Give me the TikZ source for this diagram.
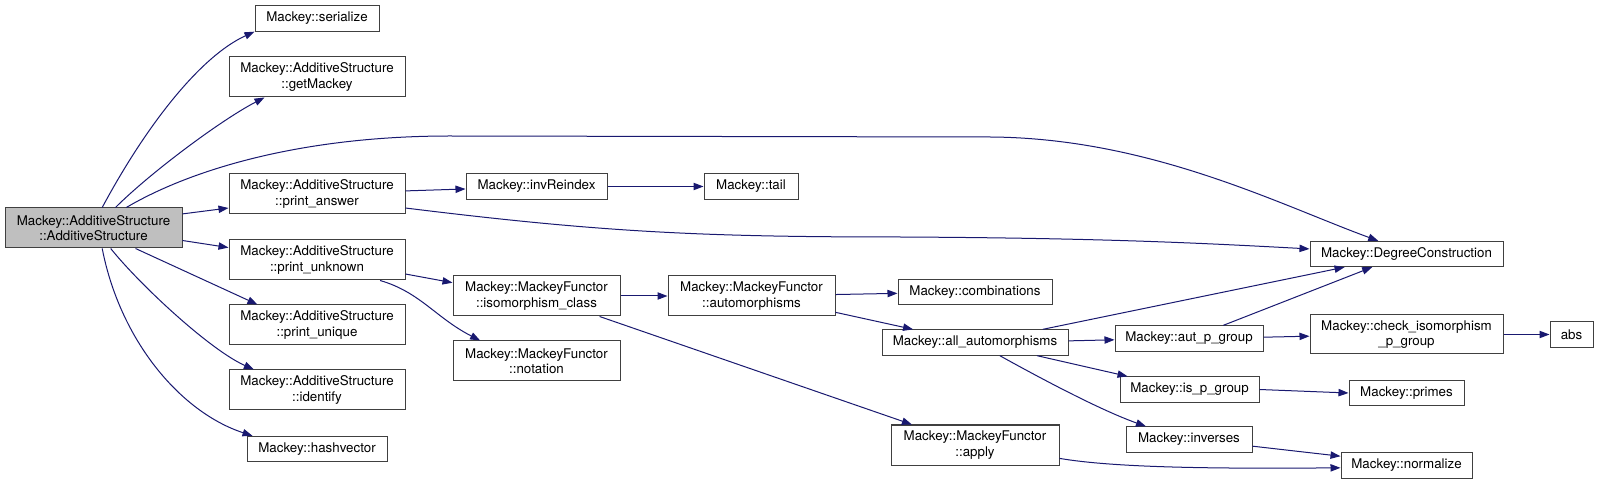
\documentclass[tikz,border=0pt]{standalone}
\usepackage{fontspec}
\setmainfont{TeX Gyre Heros}
\usepackage{xcolor}
\usepackage{tikz}
\usetikzlibrary{arrows.meta, calc}
\definecolor{EdgeBlue}{RGB}{25, 25, 112}
\definecolor{BoxBorder}{RGB}{64, 64, 64}
\definecolor{RootGray}{RGB}{191, 191, 191}
\tikzset{
  fn/.style={rectangle, draw=BoxBorder, fill=white, line width=0.75pt,
    inner sep=0pt, minimum height=19pt, align=center,
    font=\fontsize{10}{11.5}\selectfont, text=black},
  fnroot/.style={fn, fill=RootGray},
  twoline/.style={minimum height=30pt},
  wd/.style={minimum width=#1*0.75pt},
  call/.style={-{Triangle[length=7.5pt, width=5.5pt]}, line width=0.75pt,
    draw=EdgeBlue},
}

\begin{document}
\begin{tikzpicture}[x=0.75pt, y=-0.75pt]
  \fill[white] (0,0) rectangle (1599,484);
  \useasboundingbox (0,0) rectangle (1599,484);
  % columns of the call graph
  \node[fnroot, wd=177, twoline] (root) at (93.5,228)
    {Mackey::AdditiveStructure\\::AdditiveStructure};
  \node[fn, wd=124] (serialize) at (317,18.5) {Mackey::serialize};
  \node[fn, wd=176, twoline] (getMackey) at (317,77)
    {Mackey::AdditiveStructure\\::getMackey};
  \node[fn, wd=176, twoline] (printAnswer) at (317,194)
    {Mackey::AdditiveStructure\\::print\_answer};
  \node[fn, wd=176, twoline] (printUnknown) at (317,260)
    {Mackey::AdditiveStructure\\::print\_unknown};
  \node[fn, wd=176, twoline] (printUnique) at (317,325)
    {Mackey::AdditiveStructure\\::print\_unique};
  \node[fn, wd=176, twoline] (identify) at (317,390)
    {Mackey::AdditiveStructure\\::identify};
  \node[fn, wd=140] (hashvector) at (317,449) {Mackey::hashvector};
  \node[fn, wd=141] (invReindex) at (536.5,186.5) {Mackey::invReindex};
  \node[fn, wd=94] (tail) at (751,186.5) {Mackey::tail};
  \node[fn, wd=167, twoline] (isoClass) at (536.5,296)
    {Mackey::MackeyFunctor\\::isomorphism\_class};
  \node[fn, wd=167, twoline] (notation) at (536.5,361)
    {Mackey::MackeyFunctor\\::notation};
  \node[fn, wd=167, twoline] (automorphisms) at (751.5,296)
    {Mackey::MackeyFunctor\\::automorphisms};
  \node[fn, wd=154] (combinations) at (975,292) {Mackey::combinations};
  \node[fn, wd=186] (allAuto) at (975,342.5) {Mackey::all\_automorphisms};
  \node[fn, wd=168, twoline] (apply) at (975,445)
    {Mackey::MackeyFunctor\\::apply};
  \node[fn, wd=148] (autPGroup) at (1189,338.5) {Mackey::aut\_p\_group};
  \node[fn, wd=139] (isPGroup) at (1189.5,389.5) {Mackey::is\_p\_group};
  \node[fn, wd=126] (inverses) at (1189,439.5) {Mackey::inverses};
  \node[fn, wd=193] (degCons) at (1406.5,254) {Mackey::DegreeConstruction};
  \node[fn, wd=193, minimum height=29.25pt] (checkIso) at (1406.5,334.5)
    {Mackey::check\_isomorphism\\\_p\_group};
  \node[fn, wd=115] (primes) at (1406.5,393) {Mackey::primes};
  \node[fn, wd=131] (normalize) at (1406.5,465.5) {Mackey::normalize};
  \node[fn, wd=43] (abs) at (1571.5,334.5) {abs};
  % calls
  \draw[call] (root.67) .. controls (147,124) and (201,56) .. (serialize.south west);
  \draw[call] (root.43) .. controls (150,173) and (221,120) .. ($(getMackey.south west)+(36,0)$);
  \draw[call] (root.32) .. controls (190,170) and (300,136) .. (450,136) -- (990,137)
    .. controls (1150,138) and (1280,205) .. (degCons.155);
  \draw[call] (root.9) -- (printAnswer.189);
  \draw[call] (root.-8) -- (printUnknown.172);
  \draw[call] (root.-26) -- (printUnique.161);
  \draw[call] (root.-50) .. controls (140,285) and (210,350) .. (identify.162);
  \draw[call] (root.-67) .. controls (120,340) and (180,412) .. ($(hashvector.north west)+(6,0)$);
  \draw[call] (printAnswer.2) -- (invReindex.182);
  \draw[call] (invReindex.east) -- (tail.west);
  \draw[call] (printAnswer.-9) .. controls (600,232) and (700,237) .. (900,237)
    .. controls (1100,238) and (1200,243) .. (degCons.177);
  \draw[call] (printUnknown.-9) -- (isoClass.171);
  \draw[call] (printUnknown.-18) .. controls (420,292) and (436,318) .. (notation.160);
  \draw[call] (isoClass.east) -- (automorphisms.west);
  \draw[call] (isoClass.-18) -- (apply.162);
  \draw[call] (automorphisms.1) -- (combinations.181);
  \draw[call] (automorphisms.-11) -- (allAuto.168);
  \draw[call] (allAuto.11) -- (degCons.192);
  \draw[call] (allAuto.1) -- (autPGroup.181);
  \draw[call] (allAuto.-12) -- (isPGroup.168);
  \draw[call] (allAuto.-28) .. controls (1040,378) and (1100,410) .. (inverses.163);
  \draw[call] (autPGroup.21) -- (degCons.201);
  \draw[call] (autPGroup.1) -- (checkIso.181);
  \draw[call] (checkIso.east) -- (abs.west);
  \draw[call] (isPGroup.east) -- (primes.west);
  \draw[call] (inverses.-6) -- (normalize.172);
  \draw[call] (apply.-9) .. controls (1110,467) and (1200,469) .. (normalize.182);
\end{tikzpicture}
\end{document}
